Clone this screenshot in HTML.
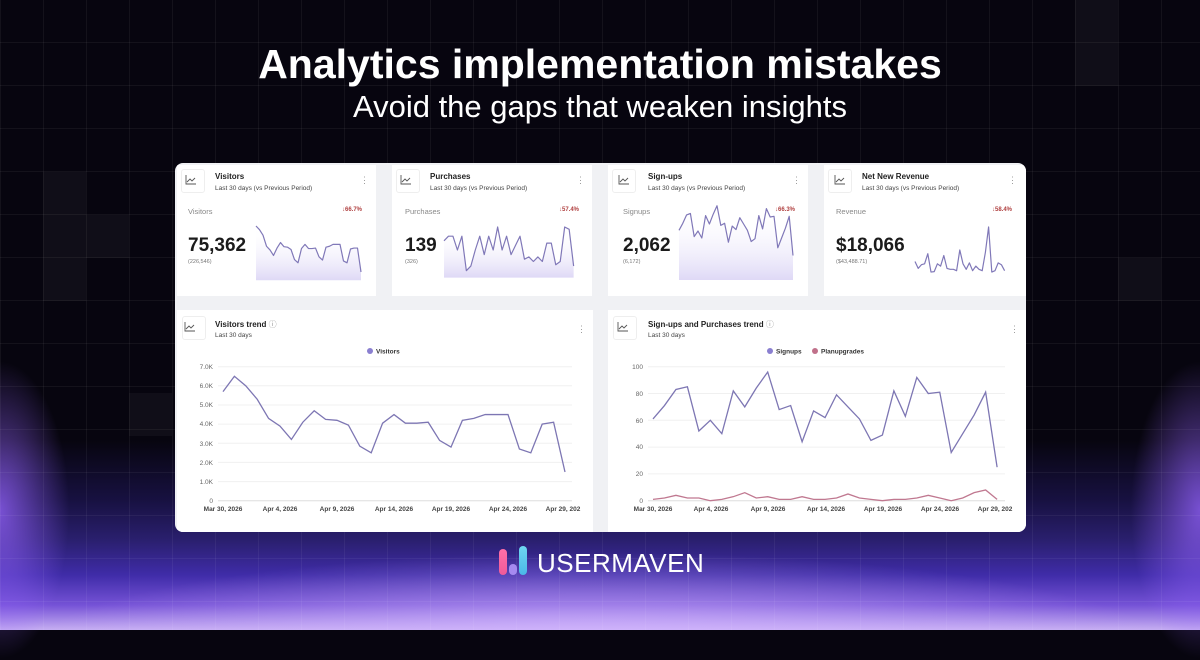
<!DOCTYPE html>
<html><head><meta charset="utf-8"><style>
*{margin:0;padding:0;box-sizing:border-box}
body{width:1200px;height:630px;overflow:hidden;font-family:"Liberation Sans",sans-serif;background:#07050f;position:relative}
#bg{position:absolute;inset:0;background:
radial-gradient(ellipse 760px 130px at 600px 650px,rgba(210,180,255,.85),rgba(210,180,255,0) 75%),
linear-gradient(to bottom,rgba(0,0,0,0) 0px,rgba(0,0,0,0) 440px,rgba(25,18,70,.9) 500px,#2a1f6e 540px,#3f2ca8 575px,#7552d6 605px,#c6aef2 630px);}
#glowL{position:absolute;left:-70px;top:360px;width:140px;height:300px;background:radial-gradient(ellipse at center,rgba(150,100,255,.75),rgba(150,100,255,0) 70%)}
#glowR{position:absolute;right:-70px;top:360px;width:140px;height:300px;background:radial-gradient(ellipse at center,rgba(150,100,255,.75),rgba(150,100,255,0) 70%)}
#grid{position:absolute;inset:0;background-image:linear-gradient(to right,rgba(255,255,255,.05) 1px,transparent 1px),linear-gradient(to bottom,rgba(255,255,255,.05) 1px,transparent 1px);background-size:43px 43px;background-position:0 -1px}
.sq{position:absolute;width:43px;height:43px;background:rgba(255,255,255,.04)}
h1{position:absolute;top:41px;left:0;width:1200px;text-align:center;color:#fff;font-size:41px;font-weight:bold}
h2{position:absolute;top:89px;left:0;width:1200px;text-align:center;color:#fff;font-size:31px;font-weight:normal}
#panel{position:absolute;left:175px;top:163px;width:851px;height:369px;background:#f0f1f4;border-radius:8px;overflow:hidden}
.card{position:absolute;background:#fff}
.ic{position:absolute;left:4px;top:4px;width:24px;height:24px;border:1px solid #eee;border-radius:3px}
.t{position:absolute;font-size:8px;font-weight:bold;color:#222}
.s{position:absolute;font-size:6.5px;color:#444}
.dots{position:absolute;font-size:9px;color:#999}
.lbl{position:absolute;font-size:7.5px;color:#888}
.pct{position:absolute;font-size:6px;color:#b04040;font-weight:bold}
.big{position:absolute;font-size:19px;font-weight:bold;color:#1b1b1b}
.sm{position:absolute;font-size:5.5px;color:#777}
svg text{font-family:"Liberation Sans",sans-serif}
#logo{position:absolute;left:497px;top:546px}
</style></head><body>
<div id="bg"></div><div id="glowL"></div><div id="glowR"></div>
<div id="grid"></div>
<div class="sq" style="left:43px;top:172px"></div>
<div class="sq" style="left:43px;top:215px"></div><div class="sq" style="left:86px;top:215px"></div>
<div class="sq" style="left:43px;top:258px"></div>
<div class="sq" style="left:129px;top:393px"></div>
<div class="sq" style="left:1075px;top:0px"></div><div class="sq" style="left:1075px;top:43px"></div>
<div class="sq" style="left:1118px;top:258px"></div>
<h1>Analytics implementation mistakes</h1>
<h2>Avoid the gaps that weaken insights</h2>

<div id="panel">
 <div class="card" style="left:2px;top:2px;width:199px;height:131px">
  <div class="ic"></div>
  <div class="t" style="left:38px;top:7px">Visitors</div>
  <div class="s" style="left:38px;top:20px">Last 30 days (vs Previous Period)</div>
  <div class="dots" style="left:183px;top:10px">⋮</div>
  <div class="lbl" style="left:11px;top:42px">Visitors</div>
  <div class="pct" style="left:165px;top:42px">↓66.7%</div>
  <div class="big" style="left:11px;top:70px">75,362</div>
  <div class="sm" style="left:11px;top:94px">(226,546)</div>
 </div>
 <div class="card" style="left:217px;top:2px;width:200px;height:131px">
  <div class="ic"></div>
  <div class="t" style="left:38px;top:7px">Purchases</div>
  <div class="s" style="left:38px;top:20px">Last 30 days (vs Previous Period)</div>
  <div class="dots" style="left:184px;top:10px">⋮</div>
  <div class="lbl" style="left:13px;top:42px">Purchases</div>
  <div class="pct" style="left:167px;top:42px">↓57.4%</div>
  <div class="big" style="left:13px;top:70px">139</div>
  <div class="sm" style="left:13px;top:94px">(326)</div>
 </div>
 <div class="card" style="left:433px;top:2px;width:200px;height:131px">
  <div class="ic"></div>
  <div class="t" style="left:40px;top:7px">Sign-ups</div>
  <div class="s" style="left:40px;top:20px">Last 30 days (vs Previous Period)</div>
  <div class="dots" style="left:184px;top:10px">⋮</div>
  <div class="lbl" style="left:15px;top:42px">Signups</div>
  <div class="pct" style="left:167px;top:42px">↓66.3%</div>
  <div class="big" style="left:15px;top:70px">2,062</div>
  <div class="sm" style="left:15px;top:94px">(6,172)</div>
 </div>
 <div class="card" style="left:649px;top:2px;width:202px;height:131px">
  <div class="ic"></div>
  <div class="t" style="left:38px;top:7px">Net New Revenue</div>
  <div class="s" style="left:38px;top:20px">Last 30 days (vs Previous Period)</div>
  <div class="dots" style="left:184px;top:10px">⋮</div>
  <div class="lbl" style="left:12px;top:42px">Revenue</div>
  <div class="pct" style="left:168px;top:42px">↓58.4%</div>
  <div class="big" style="left:12px;top:70px">$18,066</div>
  <div class="sm" style="left:12px;top:94px">($43,488.71)</div>
 </div>
 <div class="card" style="left:2px;top:147px;width:416px;height:222px">
  <div class="ic" style="left:5px;top:6px"></div>
  <div class="t" style="left:38px;top:9px">Visitors trend <span style="font-weight:normal;color:#999">ⓘ</span></div>
  <div class="s" style="left:38px;top:22px">Last 30 days</div>
  <div class="dots" style="left:400px;top:14px">⋮</div>
 </div>
 <div class="card" style="left:433px;top:147px;width:418px;height:222px">
  <div class="ic" style="left:5px;top:6px"></div>
  <div class="t" style="left:40px;top:9px">Sign-ups and Purchases trend <span style="font-weight:normal;color:#999">ⓘ</span></div>
  <div class="s" style="left:40px;top:22px">Last 30 days</div>
  <div class="dots" style="left:402px;top:14px">⋮</div>
 </div>
</div>

<svg width="1200" height="630" style="position:absolute;left:0;top:0">
 <defs><linearGradient id="fl" x1="0" y1="0" x2="0" y2="1"><stop offset="0" stop-color="#c9bff0" stop-opacity=".6"/><stop offset="1" stop-color="#ffffff" stop-opacity="0"/></linearGradient></defs>
 <g stroke="#8078b8" fill="none" stroke-width="1.2" stroke-linejoin="round">
 <g transform="translate(256,285.8) scale(3.5,-9.2)">
  <polygon fill="url(#fl)" stroke="none" points="0,0.6 0,6.5 1,6.1 2,5.5 3,4.3 4,3.9 5,3.3 6,4.1 7,4.7 8,4.25 9,4.2 10,3.95 11,2.85 12,2.5 13,4.05 14,4.5 15,4.05 16,4.05 17,4.1 18,3.15 19,2.8 20,4.2 21,4.3 22,4.5 23,4.5 24,4.5 25,2.7 26,2.5 27,4 28,4.1 29,4.1 30,1.5 30,0.6"/>
  <polyline vector-effect="non-scaling-stroke" points="0,6.5 1,6.1 2,5.5 3,4.3 4,3.9 5,3.3 6,4.1 7,4.7 8,4.25 9,4.2 10,3.95 11,2.85 12,2.5 13,4.05 14,4.5 15,4.05 16,4.05 17,4.1 18,3.15 19,2.8 20,4.2 21,4.3 22,4.5 23,4.5 24,4.5 25,2.7 26,2.5 27,4 28,4.1 29,4.1 30,1.5"/>
 </g>
 <g transform="translate(444,273) scale(4.47,-4.6)">
  <polygon fill="url(#fl)" stroke="none" points="0,-1 0,7 1,8 2,8 3,5 4,8 5,0.5 6,1.5 7,5 8,8 9,4 10,8 11,5 12,10 13,5 14,8 15,4 16,6 17,8 18,3 19,3.5 20,2.5 21,3.5 22,2.5 23,6.5 24,6.5 25,1.8 26,2.5 27,10 28,9.5 29,1.5 29,-1"/>
  <polyline vector-effect="non-scaling-stroke" points="0,7 1,8 2,8 3,5 4,8 5,0.5 6,1.5 7,5 8,8 9,4 10,8 11,5 12,10 13,5 14,8 15,4 16,6 17,8 18,3 19,3.5 20,2.5 21,3.5 22,2.5 23,6.5 24,6.5 25,1.8 26,2.5 27,10 28,9.5 29,1.5"/>
 </g>
 <g transform="translate(679,273) scale(3.8,-0.7)">
  <polygon fill="url(#fl)" stroke="none" points="0,-10 0,61 1,71 2,83 3,85 4,52 5,60 6,50 7,82 8,70 9,84 10,96 11,68 12,71 13,44 14,67 15,62 16,79 17,70 18,61 19,45 20,49 21,82 22,63 23,92 24,80 25,81 26,36 27,50 28,64 29,81 30,25 30,-10"/>
  <polyline vector-effect="non-scaling-stroke" points="0,61 1,71 2,83 3,85 4,52 5,60 6,50 7,82 8,70 9,84 10,96 11,68 12,71 13,44 14,67 15,62 16,79 17,70 18,61 19,45 20,49 21,82 22,63 23,92 24,80 25,81 26,36 27,50 28,64 29,81 30,25"/>
 </g>
 <g transform="translate(915,273) scale(3.2,-4.6)">
  <polyline vector-effect="non-scaling-stroke" points="0,2.5 1,1 2,1.8 3,2 4,4.2 5,0.2 6,0.3 7,2 8,1.5 9,3.8 10,1 11,0.8 12,0.8 13,0.5 14,5 15,2 16,0.8 17,2.2 18,0.5 19,1.5 20,0.8 21,0.5 22,4.5 23,10 24,0.2 25,0.5 26,2.2 27,1.8 28,0.5"/>
 </g>
 </g>

 <g font-size="6.5" fill="#666">
  <g stroke="#f0f0f0" stroke-width="1">
   <line x1="218" x2="572" y1="366.7" y2="366.7"/><line x1="218" x2="572" y1="385.8" y2="385.8"/><line x1="218" x2="572" y1="405" y2="405"/><line x1="218" x2="572" y1="424.1" y2="424.1"/><line x1="218" x2="572" y1="443.3" y2="443.3"/><line x1="218" x2="572" y1="462.4" y2="462.4"/><line x1="218" x2="572" y1="481.6" y2="481.6"/>
   <line x1="218" x2="572" y1="500.7" y2="500.7" stroke="#ddd"/>
  </g>
  <g text-anchor="end">
   <text x="213" y="369">7.0K</text><text x="213" y="388">6.0K</text><text x="213" y="407">5.0K</text><text x="213" y="426">4.0K</text><text x="213" y="446">3.0K</text><text x="213" y="465">2.0K</text><text x="213" y="484">1.0K</text><text x="213" y="503">0</text>
  </g>
  <g text-anchor="middle" font-weight="bold" fill="#444">
   <text x="223" y="511">Mar 30, 2026</text><text x="280" y="511">Apr 4, 2026</text><text x="337" y="511">Apr 9, 2026</text><text x="394" y="511">Apr 14, 2026</text><text x="451" y="511">Apr 19, 2026</text><text x="508" y="511">Apr 24, 2026</text><text x="563" y="511">Apr 29, 202</text>
  </g>
  <circle cx="370" cy="351" r="3" fill="#8a7fd0"/><text x="376" y="353.5" font-weight="bold" fill="#333">Visitors</text>
  <g transform="translate(223,500.7) scale(11.4,-19.14)">
   <polyline vector-effect="non-scaling-stroke" fill="none" stroke="#7d76b3" stroke-width="1.3" points="0,5.7 1,6.5 2,6 3,5.3 4,4.3 5,3.9 6,3.2 7,4.1 8,4.7 9,4.25 10,4.2 11,3.95 12,2.85 13,2.5 14,4.05 15,4.5 16,4.05 17,4.05 18,4.1 19,3.15 20,2.8 21,4.2 22,4.3 23,4.5 24,4.5 25,4.5 26,2.7 27,2.5 28,4 29,4.1 30,1.5"/>
  </g>
 </g>

 <g font-size="6.5" fill="#666">
  <g stroke="#f0f0f0">
   <line x1="648" x2="1005" y1="366.7" y2="366.7"/><line x1="648" x2="1005" y1="393.5" y2="393.5"/><line x1="648" x2="1005" y1="420.3" y2="420.3"/><line x1="648" x2="1005" y1="447.1" y2="447.1"/><line x1="648" x2="1005" y1="473.9" y2="473.9"/>
   <line x1="648" x2="1005" y1="500.7" y2="500.7" stroke="#ddd"/>
  </g>
  <g text-anchor="end">
   <text x="643" y="369">100</text><text x="643" y="396">80</text><text x="643" y="423">60</text><text x="643" y="449">40</text><text x="643" y="476">20</text><text x="643" y="503">0</text>
  </g>
  <g text-anchor="middle" font-weight="bold" fill="#444">
   <text x="653" y="511">Mar 30, 2026</text><text x="711" y="511">Apr 4, 2026</text><text x="768" y="511">Apr 9, 2026</text><text x="826" y="511">Apr 14, 2026</text><text x="883" y="511">Apr 19, 2026</text><text x="940" y="511">Apr 24, 2026</text><text x="995" y="511">Apr 29, 202</text>
  </g>
  <circle cx="770" cy="351" r="3" fill="#8a7fd0"/><text x="776" y="353.5" font-weight="bold" fill="#333">Signups</text>
  <circle cx="815" cy="351" r="3" fill="#c0708a"/><text x="821" y="353.5" font-weight="bold" fill="#333">Planupgrades</text>
  <g transform="translate(653,500.7) scale(11.47,-1.34)" fill="none" stroke-width="1.3">
   <polyline vector-effect="non-scaling-stroke" stroke="#7d76b3" points="0,61 1,71 2,83 3,85 4,52 5,60 6,50 7,82 8,70 9,84 10,96 11,68 12,71 13,44 14,67 15,62 16,79 17,70 18,61 19,45 20,49 21,82 22,63 23,92 24,80 25,81 26,36 27,50 28,64 29,81 30,25"/>
   <polyline vector-effect="non-scaling-stroke" stroke="#c07890" points="0,1 1,2 2,4 3,2 4,2 5,0 6,1 7,3 8,6 9,2 10,3 11,1 12,1 13,3 14,1 15,1 16,2 17,5 18,2 19,1 20,0 21,1 22,1 23,2 24,4 25,2 26,0 27,2 28,6 29,8 30,1"/>
  </g>
 </g>
 <g fill="none" stroke="#555" stroke-width="0.9">
  <path d="M186 175 v9 h10 M187 182 l3-3 2 2 3-3"/>
  <path d="M401 175 v9 h10 M402 182 l3-3 2 2 3-3"/>
  <path d="M619 175 v9 h10 M620 182 l3-3 2 2 3-3"/>
  <path d="M835 175 v9 h10 M836 182 l3-3 2 2 3-3"/>
  <path d="M185 322 v9 h10 M186 329 l3-3 2 2 3-3"/>
  <path d="M618 322 v9 h10 M619 329 l3-3 2 2 3-3"/>
 </g>
</svg>

<div id="logo">
 <div style="position:absolute;left:2px;top:3px;width:8px;height:26px;border-radius:4px;background:linear-gradient(#ff6fa8,#f05a9a)"></div>
 <div style="position:absolute;left:12px;top:18px;width:8px;height:11px;border-radius:4px;background:#a58af0"></div>
 <div style="position:absolute;left:22px;top:0px;width:8px;height:29px;border-radius:4px;background:linear-gradient(#6fd6f0,#4ab8e8)"></div>
 <div style="position:absolute;left:40px;top:2px;color:#fff;font-size:26px;letter-spacing:0.5px;white-space:nowrap">USERMAVEN</div>
</div>
</body></html>
